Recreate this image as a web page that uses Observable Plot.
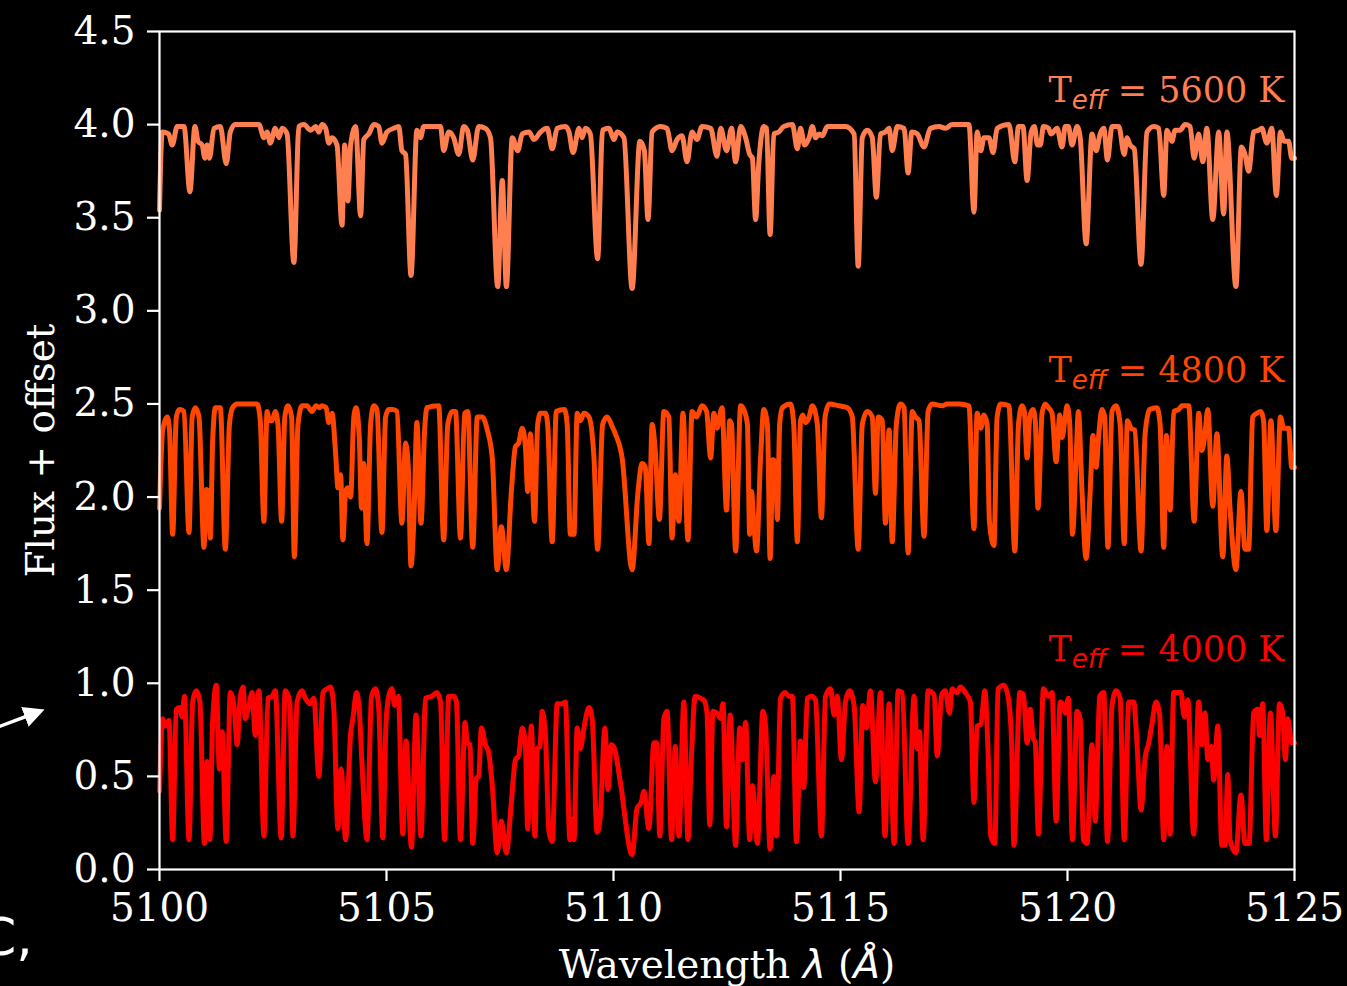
<!DOCTYPE html>
<html>
<head>
<meta charset="utf-8">
<script src="https://cdn.jsdelivr.net/npm/d3@7"></script>
<script src="https://cdn.jsdelivr.net/npm/@observablehq/plot@0.6"></script>
<style>
  html, body { margin: 0; padding: 0; background: #000; }
  #wrap { position: relative; width: 1347px; height: 986px; overflow: hidden; background: #000; }
  #deco { position: absolute; left: 0; top: 0; pointer-events: none; }
</style>
</head>
<body>
<div id="wrap"></div>
<script>
// ---- data ----
const temps = [5600, 4800, 4000];
const offsets = [3, 1.5, 0];
const seriesColors = ["#ff7f50", "#ff4500", "#ff0000"];
const xTicks = [5100, 5105, 5110, 5115, 5120, 5125];
const yTicks = [0, 0.5, 1, 1.5, 2, 2.5, 3, 3.5, 4, 4.5];

const spec5600 = [
[5100.00,3.54],[5100.06,3.96],[5100.20,3.95],[5100.28,3.89],[5100.39,3.99],[5100.54,3.99],[5100.67,3.64],[5100.78,3.99],
[5100.85,3.91],[5100.94,3.89],[5101.00,3.82],[5101.05,3.89],[5101.10,3.82],[5101.20,3.98],[5101.34,3.99],[5101.47,3.79],
[5101.56,3.96],[5101.67,4.00],[5102.19,4.00],[5102.30,3.93],[5102.37,3.96],[5102.44,3.90],[5102.55,3.98],[5102.63,3.93],
[5102.70,3.98],[5102.81,3.95],[5102.96,3.26],[5103.07,3.99],[5103.18,4.00],[5103.33,3.97],[5103.44,3.99],[5103.51,3.96],
[5103.58,4.00],[5103.66,3.98],[5103.73,3.90],[5103.80,3.93],[5103.91,3.89],[5104.02,3.46],[5104.08,3.89],[5104.15,3.59],
[5104.21,3.89],[5104.32,3.99],[5104.43,3.51],[5104.50,3.92],[5104.61,3.95],[5104.72,4.00],[5104.83,3.99],[5104.90,3.90],
[5105.01,3.96],[5105.16,3.98],[5105.27,3.99],[5105.34,3.86],[5105.42,3.84],[5105.54,3.19],[5105.67,3.97],[5105.75,3.93],
[5105.82,3.99],[5106.19,3.99],[5106.26,3.86],[5106.37,3.96],[5106.48,3.93],[5106.59,3.84],[5106.70,3.99],[5106.78,3.97],
[5106.90,3.81],[5107.03,3.99],[5107.18,3.98],[5107.29,3.93],[5107.45,3.13],[5107.55,3.70],[5107.64,3.13],[5107.77,3.93],
[5107.89,3.86],[5107.99,3.95],[5108.14,3.96],[5108.25,3.92],[5108.39,3.96],[5108.54,3.98],[5108.65,3.87],[5108.76,3.98],
[5108.94,3.99],[5109.02,3.96],[5109.11,3.85],[5109.24,3.98],[5109.31,3.93],[5109.38,3.98],[5109.49,3.95],[5109.65,3.28],
[5109.76,3.97],[5109.90,3.98],[5110.01,3.92],[5110.08,3.96],[5110.23,3.93],[5110.41,3.12],[5110.58,3.91],[5110.68,3.86],
[5110.76,3.49],[5110.85,3.96],[5111.03,3.99],[5111.18,3.98],[5111.29,3.86],[5111.40,3.92],[5111.51,3.94],[5111.62,3.80],
[5111.73,3.96],[5111.84,3.92],[5111.95,3.99],[5112.14,3.98],[5112.28,3.83],[5112.36,3.98],[5112.49,3.86],[5112.60,3.98],
[5112.69,3.80],[5112.80,3.99],[5112.91,3.93],[5113.00,3.84],[5113.06,3.82],[5113.13,3.49],[5113.20,3.79],[5113.31,3.99],
[5113.37,3.98],[5113.45,3.41],[5113.53,3.95],[5113.64,3.96],[5113.75,3.99],[5113.94,4.00],[5114.05,3.87],[5114.12,3.98],
[5114.21,3.89],[5114.31,3.93],[5114.38,3.99],[5114.45,3.93],[5114.53,3.95],[5114.60,3.94],[5114.71,3.99],[5115.11,3.99],
[5115.30,3.95],[5115.39,3.24],[5115.48,3.93],[5115.59,3.97],[5115.70,3.93],[5115.79,3.61],[5115.88,3.95],[5115.99,3.96],
[5116.07,3.98],[5116.14,3.86],[5116.25,3.99],[5116.40,3.98],[5116.49,3.74],[5116.57,3.96],[5116.69,3.95],[5116.84,3.88],
[5116.98,3.98],[5117.17,3.99],[5117.31,3.98],[5117.46,4.00],[5117.83,4.00],[5117.94,3.53],[5118.01,3.96],[5118.09,3.86],
[5118.16,3.93],[5118.27,3.93],[5118.36,3.85],[5118.45,3.98],[5118.71,4.00],[5118.84,3.80],[5118.92,3.99],[5119.02,3.99],
[5119.11,3.70],[5119.20,3.96],[5119.27,3.99],[5119.34,3.89],[5119.40,3.89],[5119.47,3.99],[5119.58,3.98],[5119.64,3.95],
[5119.77,3.98],[5119.88,3.88],[5119.95,3.99],[5120.02,3.99],[5120.10,3.89],[5120.21,3.99],[5120.28,3.93],[5120.41,3.36],
[5120.54,3.95],[5120.63,3.86],[5120.72,3.95],[5120.80,3.98],[5120.88,3.81],[5120.98,3.99],[5121.13,3.99],[5121.25,3.84],
[5121.31,3.93],[5121.38,3.89],[5121.47,3.87],[5121.62,3.25],[5121.75,3.96],[5121.90,3.99],[5122.01,3.98],[5122.12,3.62],
[5122.19,3.97],[5122.30,3.91],[5122.37,3.97],[5122.48,3.97],[5122.59,4.00],[5122.70,3.99],[5122.79,3.82],[5122.89,3.95],
[5122.98,3.80],[5123.07,3.98],[5123.20,3.49],[5123.33,3.96],[5123.44,3.52],[5123.51,3.96],[5123.71,3.13],[5123.83,3.88],
[5123.91,3.84],[5123.99,3.75],[5124.10,3.96],[5124.21,3.97],[5124.28,3.98],[5124.39,3.90],[5124.50,3.98],[5124.60,3.62],
[5124.69,3.96],[5124.77,3.91],[5124.87,3.91],[5124.94,3.82],[5125.00,3.82]
];

const spec4800 = [
[5100.00,1.94],[5100.07,2.36],[5100.17,2.43],[5100.22,2.36],[5100.29,1.80],[5100.37,2.43],[5100.44,2.47],[5100.54,2.46],
[5100.65,1.81],[5100.72,2.43],[5100.79,2.48],[5100.87,2.43],[5100.98,1.73],[5101.03,2.04],[5101.07,2.03],[5101.12,1.78],
[5101.17,2.29],[5101.23,2.48],[5101.34,2.48],[5101.45,1.72],[5101.54,2.39],[5101.61,2.48],[5101.71,2.50],[5102.15,2.50],
[5102.22,2.41],[5102.30,1.87],[5102.37,2.46],[5102.42,2.41],[5102.48,2.41],[5102.55,2.46],[5102.61,2.39],[5102.69,1.87],
[5102.76,2.43],[5102.83,2.49],[5102.91,2.43],[5102.97,1.68],[5103.05,2.39],[5103.14,2.49],[5103.25,2.49],[5103.36,2.46],
[5103.45,2.49],[5103.52,2.48],[5103.58,2.49],[5103.67,2.48],[5103.73,2.40],[5103.80,2.45],[5103.88,2.23],[5103.93,2.05],
[5103.99,2.12],[5104.04,1.77],[5104.10,2.03],[5104.15,2.05],[5104.21,2.00],[5104.28,2.43],[5104.33,2.48],[5104.40,2.32],
[5104.45,1.94],[5104.50,2.18],[5104.57,1.75],[5104.65,2.39],[5104.72,2.49],[5104.79,2.47],[5104.90,1.81],[5104.98,2.43],
[5105.05,2.47],[5105.14,2.47],[5105.23,2.46],[5105.34,1.86],[5105.42,2.29],[5105.48,2.16],[5105.54,1.63],[5105.60,1.86],
[5105.67,2.40],[5105.76,1.86],[5105.84,2.36],[5105.89,2.48],[5106.15,2.49],[5106.26,1.77],[5106.35,2.39],[5106.45,2.46],
[5106.52,2.46],[5106.63,1.78],[5106.72,2.45],[5106.79,2.46],[5106.90,1.73],[5107.00,2.43],[5107.11,2.43],[5107.22,2.36],
[5107.33,2.21],[5107.44,1.61],[5107.53,1.84],[5107.64,1.61],[5107.75,2.03],[5107.84,2.27],[5107.91,2.29],[5107.99,2.37],
[5108.06,2.27],[5108.11,2.03],[5108.17,2.34],[5108.26,1.87],[5108.33,2.39],[5108.39,2.45],[5108.50,2.45],[5108.55,2.39],
[5108.65,1.76],[5108.74,2.46],[5108.92,2.47],[5108.98,2.39],[5109.05,1.80],[5109.13,1.80],[5109.20,2.45],[5109.27,2.41],
[5109.35,2.45],[5109.46,2.43],[5109.57,2.21],[5109.65,1.72],[5109.76,2.39],[5109.86,2.43],[5109.97,2.38],[5110.04,2.34],
[5110.19,2.21],[5110.41,1.61],[5110.54,2.03],[5110.63,2.18],[5110.70,2.16],[5110.78,1.75],[5110.85,2.39],[5110.92,2.25],
[5111.01,1.88],[5111.11,2.46],[5111.22,2.43],[5111.29,1.78],[5111.36,2.12],[5111.44,1.87],[5111.53,2.45],[5111.64,1.77],
[5111.73,2.46],[5111.83,2.43],[5111.95,2.49],[5112.05,2.46],[5112.14,2.21],[5112.21,2.45],[5112.28,2.37],[5112.39,2.48],
[5112.49,1.93],[5112.56,2.41],[5112.60,2.39],[5112.69,1.71],[5112.80,2.49],[5112.87,2.47],[5112.95,2.39],[5113.00,1.80],
[5113.04,2.03],[5113.09,1.86],[5113.15,1.71],[5113.24,2.21],[5113.31,2.47],[5113.39,2.39],[5113.45,1.67],[5113.51,2.20],
[5113.57,2.18],[5113.61,1.88],[5113.66,2.39],[5113.72,2.48],[5113.90,2.50],[5113.97,2.39],[5114.05,1.76],[5114.12,2.41],
[5114.17,2.44],[5114.23,2.40],[5114.31,2.43],[5114.38,2.49],[5114.49,2.39],[5114.58,1.89],[5114.66,2.43],[5114.75,2.50],
[5114.97,2.49],[5115.15,2.48],[5115.26,2.43],[5115.39,1.72],[5115.48,2.39],[5115.59,2.46],[5115.70,2.43],[5115.77,2.02],
[5115.83,2.43],[5115.92,2.41],[5115.99,1.86],[5116.07,2.36],[5116.14,1.76],[5116.23,2.39],[5116.32,2.50],[5116.40,2.48],
[5116.49,1.70],[5116.58,2.46],[5116.65,2.43],[5116.73,2.41],[5116.84,1.79],[5116.93,2.46],[5117.02,2.50],[5117.24,2.49],
[5117.35,2.50],[5117.61,2.50],[5117.83,2.49],[5117.94,1.83],[5118.01,2.45],[5118.09,2.37],[5118.16,2.44],[5118.23,2.39],
[5118.28,1.87],[5118.38,1.74],[5118.45,2.43],[5118.53,2.50],[5118.71,2.49],[5118.84,1.71],[5118.92,2.39],[5119.00,2.49],
[5119.05,2.46],[5119.11,2.21],[5119.17,2.43],[5119.24,2.47],[5119.29,2.41],[5119.35,1.94],[5119.44,2.45],[5119.51,2.50],
[5119.58,2.48],[5119.66,2.45],[5119.75,2.19],[5119.83,2.44],[5119.88,2.32],[5119.94,2.41],[5119.99,2.49],[5120.05,2.39],
[5120.11,1.80],[5120.19,2.21],[5120.24,2.46],[5120.32,2.03],[5120.41,1.67],[5120.50,2.03],[5120.56,2.33],[5120.63,2.16],
[5120.69,2.34],[5120.76,2.47],[5120.82,2.43],[5120.89,1.73],[5120.98,2.46],[5121.07,2.49],[5121.16,2.39],[5121.25,1.75],
[5121.32,2.41],[5121.40,2.37],[5121.48,2.36],[5121.62,1.71],[5121.71,2.34],[5121.81,2.47],[5121.97,2.48],[5122.04,2.39],
[5122.12,1.73],[5122.18,2.33],[5122.26,1.93],[5122.34,2.46],[5122.45,2.47],[5122.52,2.49],[5122.67,2.49],[5122.79,1.87],
[5122.89,2.45],[5122.96,2.25],[5123.02,2.32],[5123.09,2.47],[5123.20,1.95],[5123.29,2.34],[5123.42,1.68],[5123.51,2.22],
[5123.58,1.94],[5123.71,1.61],[5123.82,2.03],[5123.91,1.72],[5123.99,1.72],[5124.08,2.43],[5124.17,2.45],[5124.26,2.46],
[5124.32,2.41],[5124.39,1.82],[5124.48,2.41],[5124.59,1.82],[5124.69,2.43],[5124.76,2.37],[5124.87,2.37],[5124.94,2.16],
[5125.00,2.16]
];

const spec4000 = [
[5100.00,0.42],[5100.07,0.81],[5100.13,0.77],[5100.21,0.80],[5100.29,0.16],[5100.37,0.86],[5100.44,0.87],[5100.50,0.82],
[5100.55,0.93],[5100.65,0.16],[5100.73,0.90],[5100.81,0.96],[5100.89,0.90],[5100.99,0.14],[5101.05,0.58],[5101.11,0.16],
[5101.17,0.79],[5101.25,0.99],[5101.32,0.54],[5101.38,0.74],[5101.47,0.15],[5101.56,0.95],[5101.65,0.86],[5101.71,0.67],
[5101.78,0.93],[5101.84,0.98],[5101.89,0.81],[5101.97,0.88],[5102.04,0.95],[5102.11,0.72],[5102.19,0.96],[5102.30,0.18],
[5102.39,0.92],[5102.48,0.93],[5102.55,0.96],[5102.68,0.17],[5102.77,0.96],[5102.87,0.90],[5102.94,0.18],[5103.03,0.90],
[5103.14,0.96],[5103.21,0.92],[5103.31,0.89],[5103.40,0.92],[5103.51,0.50],[5103.60,0.95],[5103.69,0.97],[5103.77,0.98],
[5103.84,0.86],[5103.93,0.22],[5104.00,0.54],[5104.10,0.16],[5104.21,0.73],[5104.26,0.81],[5104.34,0.95],[5104.40,0.86],
[5104.46,0.57],[5104.57,0.16],[5104.67,0.93],[5104.76,0.97],[5104.83,0.86],[5104.92,0.17],[5104.99,0.79],[5105.05,0.93],
[5105.12,0.97],[5105.18,0.88],[5105.26,0.93],[5105.36,0.19],[5105.43,0.69],[5105.55,0.12],[5105.65,0.83],[5105.76,0.18],
[5105.86,0.92],[5106.00,0.93],[5106.11,0.95],[5106.19,0.90],[5106.28,0.16],[5106.37,0.93],[5106.48,0.93],[5106.54,0.90],
[5106.63,0.16],[5106.73,0.79],[5106.78,0.68],[5106.84,0.67],[5106.90,0.14],[5106.98,0.49],[5107.03,0.50],[5107.09,0.76],
[5107.18,0.67],[5107.25,0.63],[5107.33,0.45],[5107.44,0.09],[5107.53,0.26],[5107.64,0.09],[5107.75,0.36],[5107.84,0.59],
[5107.91,0.61],[5107.99,0.76],[5108.06,0.67],[5108.11,0.22],[5108.19,0.77],[5108.27,0.18],[5108.32,0.65],[5108.38,0.66],
[5108.43,0.85],[5108.50,0.72],[5108.58,0.20],[5108.65,0.15],[5108.76,0.89],[5108.87,0.89],[5108.94,0.90],[5109.04,0.16],
[5109.09,0.27],[5109.13,0.16],[5109.20,0.76],[5109.27,0.65],[5109.35,0.76],[5109.46,0.87],[5109.53,0.81],[5109.64,0.20],
[5109.71,0.29],[5109.81,0.76],[5109.88,0.43],[5109.95,0.67],[5110.02,0.65],[5110.15,0.47],[5110.41,0.08],[5110.52,0.33],
[5110.61,0.36],[5110.67,0.42],[5110.78,0.22],[5110.89,0.68],[5110.95,0.68],[5111.02,0.18],[5111.11,0.81],[5111.18,0.85],
[5111.28,0.16],[5111.36,0.66],[5111.44,0.18],[5111.55,0.90],[5111.64,0.16],[5111.71,0.57],[5111.80,0.93],[5111.91,0.92],
[5111.99,0.91],[5112.06,0.84],[5112.12,0.24],[5112.19,0.85],[5112.28,0.84],[5112.36,0.81],[5112.41,0.89],[5112.49,0.23],
[5112.57,0.83],[5112.69,0.13],[5112.78,0.76],[5112.84,0.59],[5112.91,0.79],[5113.00,0.16],[5113.06,0.45],[5113.17,0.14],
[5113.29,0.85],[5113.35,0.77],[5113.45,0.11],[5113.53,0.50],[5113.59,0.18],[5113.68,0.92],[5113.78,0.95],[5113.86,0.93],
[5113.94,0.93],[5114.03,0.15],[5114.12,0.69],[5114.19,0.44],[5114.27,0.92],[5114.36,0.93],[5114.45,0.91],[5114.58,0.18],
[5114.67,0.93],[5114.78,0.97],[5114.86,0.83],[5114.93,0.93],[5115.02,0.59],[5115.11,0.90],[5115.20,0.96],[5115.30,0.88],
[5115.41,0.31],[5115.49,0.88],[5115.57,0.76],[5115.66,0.96],[5115.77,0.47],[5115.88,0.95],[5115.98,0.18],[5116.07,0.89],
[5116.18,0.14],[5116.27,0.96],[5116.36,0.95],[5116.49,0.14],[5116.62,0.93],[5116.69,0.65],[5116.74,0.74],[5116.82,0.16],
[5116.93,0.96],[5117.06,0.94],[5117.13,0.61],[5117.23,0.94],[5117.31,0.96],[5117.40,0.84],[5117.46,0.97],[5117.57,0.95],
[5117.64,0.98],[5117.75,0.95],[5117.86,0.90],[5117.94,0.36],[5118.01,0.77],[5118.09,0.78],[5118.18,0.96],[5118.25,0.63],
[5118.31,0.18],[5118.40,0.14],[5118.47,0.97],[5118.60,0.99],[5118.69,0.93],[5118.77,0.68],[5118.82,0.13],[5118.95,0.95],
[5119.03,0.94],[5119.11,0.68],[5119.18,0.86],[5119.24,0.71],[5119.29,0.68],[5119.36,0.19],[5119.47,0.97],[5119.58,0.93],
[5119.66,0.95],[5119.75,0.26],[5119.84,0.90],[5119.91,0.88],[5119.95,0.84],[5120.02,0.92],[5120.11,0.16],[5120.21,0.85],
[5120.28,0.81],[5120.35,0.16],[5120.43,0.14],[5120.54,0.67],[5120.61,0.26],[5120.71,0.93],[5120.80,0.95],[5120.88,0.15],
[5120.98,0.88],[5121.07,0.96],[5121.16,0.92],[5121.25,0.16],[5121.35,0.90],[5121.46,0.90],[5121.53,0.68],[5121.62,0.32],
[5121.71,0.60],[5121.79,0.68],[5121.86,0.78],[5121.95,0.90],[5122.03,0.83],[5122.12,0.16],[5122.19,0.66],[5122.26,0.19],
[5122.34,0.95],[5122.42,0.95],[5122.50,0.95],[5122.57,0.82],[5122.65,0.91],[5122.78,0.19],[5122.89,0.90],[5122.96,0.67],
[5123.03,0.84],[5123.09,0.59],[5123.17,0.66],[5123.22,0.48],[5123.31,0.77],[5123.40,0.13],[5123.47,0.13],[5123.53,0.51],
[5123.58,0.16],[5123.71,0.09],[5123.82,0.40],[5123.91,0.14],[5124.00,0.14],[5124.10,0.84],[5124.19,0.86],[5124.23,0.72],
[5124.30,0.89],[5124.38,0.16],[5124.47,0.84],[5124.58,0.18],[5124.67,0.89],[5124.74,0.84],[5124.80,0.59],[5124.85,0.81],
[5124.94,0.68],[5125.00,0.68]
];

const spectra = [spec5600, spec4800, spec4000];
const labels = temps.map((t, i) => ({temp: t, y: offsets[i] + 1.18, color: seriesColors[i]}));

const fontFamily = "'DejaVu Serif', serif";
const ns = "http://www.w3.org/2000/svg";
function tspan(text, attrs = {}) {
  const t = document.createElementNS(ns, "tspan");
  t.textContent = text;
  for (const [k, v] of Object.entries(attrs)) t.setAttribute(k, v);
  return t;
}

const plot = Plot.plot({
  width: 1347,
  height: 986,
  marginLeft: 159,
  marginRight: 53,
  marginTop: 31,
  marginBottom: 117,
  style: {background: "black", color: "white", fontFamily, fontSize: "39px", overflow: "visible"},
  x: {domain: [5100, 5125]},
  y: {domain: [0, 4.5]},
  marks: [
    ...spectra.map((s, i) => Plot.line(s, {x: d => d[0], y: d => d[1], stroke: seriesColors[i], strokeWidth: 5, strokeLinejoin: "round", curve: "monotone-x"})),
    Plot.frame({stroke: "white", strokeWidth: 2.2}),
    Plot.axisX({ticks: xTicks, tickFormat: d => String(d), tickSize: 12, tickPadding: 12, stroke: "white", strokeWidth: 2.2, fill: "white", fontSize: 39, label: null}),
    Plot.axisY({ticks: yTicks, tickFormat: d => d.toFixed(1), tickSize: 12, tickPadding: 12, stroke: "white", strokeWidth: 2.2, fill: "white", fontSize: 39, label: null}),
    Plot.text(["Flux + offset"], {frameAnchor: "left", dx: -118, rotate: -90, textAnchor: "middle", text: d => d, fill: "white", fontSize: 39}),
    Plot.text(["Wavelength λ (Å)"], {frameAnchor: "bottom", dy: 108, textAnchor: "middle", text: d => d, fill: "white", fontSize: 39, className: "xlabel"}),
    Plot.text(labels, {x: 5125, y: "y", dx: -10, textAnchor: "end", text: d => `Teff = ${d.temp} K`, fill: "color", fontSize: 35, className: "teff"})
  ]
});

// subscript "eff" in italic, as real text
plot.querySelectorAll("g.teff text").forEach((t, i) => {
  const temp = labels[i].temp;
  t.textContent = "";
  t.append(
    tspan("T"),
    tspan("eff", {"font-style": "italic", "font-family": "'DejaVu Sans', sans-serif", "font-size": "26", dy: "7"}),
    tspan(` = ${temp} K`, {dy: "-7"})
  );
});
// italic lambda and angstrom as in the math text of the original
plot.querySelectorAll("g.xlabel text").forEach(t => {
  t.textContent = "";
  t.append(
    tspan("Wavelength "),
    tspan("λ", {"font-style": "italic", "font-family": "'DejaVu Sans', sans-serif"}),
    tspan(" ("),
    tspan("Å", {"font-style": "italic", "font-family": "'DejaVu Sans', sans-serif"}),
    tspan(")")
  );
});

const wrap = document.getElementById("wrap");
wrap.appendChild(plot);

// stray fragments from the original slide at the left edge
const deco = document.createElementNS(ns, "svg");
deco.setAttribute("id", "deco");
deco.setAttribute("width", "160");
deco.setAttribute("height", "986");
deco.innerHTML = `
  <defs><marker id="ah" markerWidth="6" markerHeight="6" refX="4" refY="3" orient="auto" markerUnits="strokeWidth">
    <path d="M0,0 L6,3 L0,6 z" fill="white"/></marker></defs>
  <line x1="-2" y1="727" x2="38" y2="712" stroke="white" stroke-width="3.5" marker-end="url(#ah)"/>
  <text x="-20" y="955" fill="white" font-family="'DejaVu Sans', sans-serif" font-size="52">C,</text>`;
wrap.appendChild(deco);
</script>
</body>
</html>
